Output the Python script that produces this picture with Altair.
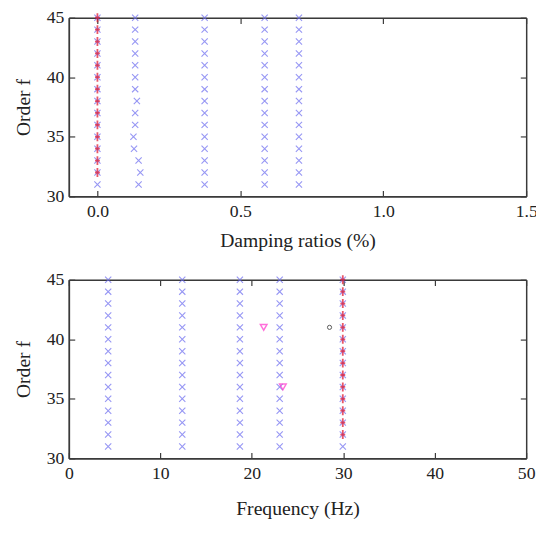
import altair as alt
import pandas as pd

orders = [31, 32, 33, 34, 35, 36, 37, 38, 39, 40, 41, 42, 43, 44, 45]
red_orders = [32, 33, 34, 35, 36, 37, 38, 39, 40, 41, 42, 43, 44, 45]

# Top panel: damping ratios (%) per stable pole column
damp_c1 = [0, 0, 0, 0, 0, 0, 0, 0, 0, 0, 0, 0, 0, 0, 0]
damp_c2 = [0.144, 0.150, 0.144, 0.128, 0.126, 0.132, 0.132, 0.138, 0.132, 0.132, 0.132, 0.132, 0.132, 0.132, 0.132]
damp_c3 = [0.375] * 15
damp_c4 = [0.585] * 15
damp_c5 = [0.705] * 15
damp_red = [0, 0, 0, 0, 0, 0, 0, 0, 0, 0, 0, 0, 0, 0]

# Bottom panel: frequency (Hz)
freq_c1 = [4.3] * 15
freq_c2 = [12.4] * 15
freq_c3 = [18.7] * 15
freq_c4 = [23.05] * 15
freq_c5 = [29.95] * 15
freq_red = [29.95] * 14
tri_freq = [21.3, 23.4]
tri_order = [41, 36]
circ_freq = [28.5]
circ_order = [41]

FONT = "Liberation Serif"
XPATH = "M-1,-1L1,1M-1,1L1,-1"
PLUS = "M0,-1.3L0,1.3M-0.7,0L0.7,0"
BLUE = "#6b6bf0"
RED = "#e0102a"
FRAME = "#3a3a3a"
W, H = 466, 182
YT = [30, 35, 40, 45]


def blue_df(cols):
    rows = []
    for c in cols:
        for o, v in zip(orders, c):
            rows.append({"x": v, "order": o})
    return pd.DataFrame(rows)


def tick_axis(values, orient, offset):
    return alt.Axis(values=values, orient=orient, offset=offset, labels=False, title=None,
                    grid=False, domain=True, domainColor=FRAME, domainWidth=1.5,
                    ticks=True, tickSize=6, tickColor=FRAME, tickWidth=1.2)


def panel(blue, red, extras, xdom, xticks, xtitle, title_pad):
    xs = alt.Scale(domain=xdom, nice=False, zero=False)
    ys = alt.Scale(domain=[30, 45], nice=False, zero=False)
    xax = alt.Axis(values=xticks, title=xtitle, grid=False, domain=True, ticks=False,
                   domainColor=FRAME, domainWidth=1.5, labelPadding=7,
                   labelFont=FONT, labelFontSize=18, labelColor="#222",
                   titleFont=FONT, titleFontSize=20, titleFontWeight="normal",
                   titleColor="#222", titlePadding=title_pad, labelFlush=False)
    yax = alt.Axis(values=YT, title="Order f", grid=False, domain=True, ticks=False,
                   domainColor=FRAME, domainWidth=1.5, labelPadding=5,
                   labelFont=FONT, labelFontSize=18, labelColor="#222",
                   titleFont=FONT, titleFontSize=20, titleFontWeight="normal",
                   titleColor="#222", titlePadding=13, labelFlush=False)

    b = alt.Chart(blue).mark_point(shape=XPATH, filled=False, color=BLUE, size=40,
                                  strokeWidth=1.1).encode(
        x=alt.X("x:Q", scale=xs, axis=xax),
        y=alt.Y("order:Q", scale=ys, axis=yax),
    )
    # inward ticks on bottom and left edges
    r = alt.Chart(red).mark_point(shape=PLUS, filled=False, color=RED, size=49,
                                 strokeWidth=1.8).encode(
        x=alt.X("x:Q", scale=xs, axis=tick_axis(xticks, "top", -H)),
        y=alt.Y("order:Q", scale=ys, axis=tick_axis(YT, "right", -W)),
    )
    # inward ticks on top and right edges
    g = alt.Chart(red).mark_point(opacity=0).encode(
        x=alt.X("x:Q", scale=xs, axis=tick_axis(xticks, "bottom", -H)),
        y=alt.Y("order:Q", scale=ys, axis=tick_axis(YT, "left", -W)),
    )
    layers = [b, r, g] + [e.encode(x=alt.X("x:Q", scale=xs, axis=None),
                                   y=alt.Y("order:Q", scale=ys, axis=None))
                          for e in extras]
    return alt.layer(*layers).resolve_axis(x="independent", y="independent").properties(
        width=W, height=H)


top_blue = blue_df([damp_c1, damp_c2, damp_c3, damp_c4, damp_c5])
top_red = pd.DataFrame({"x": damp_red, "order": red_orders})
top = panel(top_blue, top_red, [], [-0.1, 1.5], [0, 0.5, 1, 1.5], "Damping ratios (%)", 10)

bot_blue = blue_df([freq_c1, freq_c2, freq_c3, freq_c4, freq_c5])
bot_red = pd.DataFrame({"x": freq_red, "order": red_orders})
tri = alt.Chart(pd.DataFrame({"x": tri_freq, "order": tri_order})).mark_point(
    shape="triangle-down", filled=False, color="#ff33cc", size=45, strokeWidth=1.5)
circ = alt.Chart(pd.DataFrame({"x": circ_freq, "order": circ_order})).mark_point(
    shape="circle", filled=False, color="#111", size=18, strokeWidth=1)
bot = panel(bot_blue, bot_red, [tri, circ], [0, 50], [0, 10, 20, 30, 40, 50],
            "Frequency (Hz)", 16)

chart = alt.vconcat(top, bot, spacing=19).properties(
    padding={"left": 5, "top": -5, "right": -2, "bottom": 0}
).configure_view(strokeWidth=0).configure(background="white")

chart.save("out.html", embed_options={"renderer": "svg", "actions": False})
